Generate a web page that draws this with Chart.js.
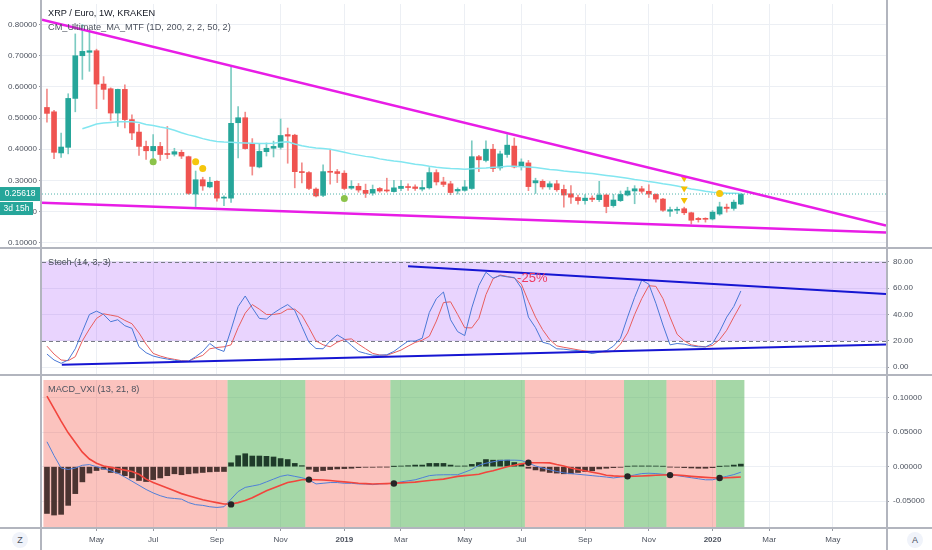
<!DOCTYPE html>
<html>
<head>
<meta charset="utf-8">
<script src="https://cdn.jsdelivr.net/npm/chart.js@4.4.1/dist/chart.umd.min.js"></script>
<style>
  html, body { margin: 0; padding: 0; background: #fff; }
  #wrap { position: relative; width: 932px; height: 550px; overflow: hidden; font-family: 'Liberation Sans', Arial, sans-serif; }
  .pane { position: absolute; left: 0; }
  .legend { position: absolute; left: 48px; font-size: 9.2px; color: #4c525e; white-space: nowrap; line-height: 11px; }
  .hline { position: absolute; left: 0; width: 932px; height: 2px; background: #b2b5be; }
  .vline { position: absolute; top: 0; width: 2px; height: 550px; background: #b2b5be; }
  .corner { position: absolute; top: 532px; width: 16px; height: 16px; border-radius: 8px; background: #f0f3fa;
            color: #4c525e; font-size: 9px; line-height: 16px; text-align: center; }
</style>
</head>
<body>
<div id="wrap">
  <canvas id="price" class="pane" style="top:0" width="932" height="247"></canvas>
  <canvas id="stoch" class="pane" style="top:249px" width="932" height="125"></canvas>
  <canvas id="macd" class="pane" style="top:376px" width="932" height="174"></canvas>
  <div class="hline" style="top:247px"></div>
  <div class="hline" style="top:374px"></div>
  <div class="hline" style="top:527px"></div>
  <div class="vline" style="left:40px"></div>
  <div class="vline" style="left:886px"></div>
  <div class="legend" style="top:8px;color:#131722">XRP / Euro, 1W, KRAKEN</div>
  <div class="legend" style="top:22px">CM_Ultimate_MA_MTF (1D, 200, 2, 2, 50, 2)</div>
  <div class="legend" style="top:257px">Stoch (14, 3, 3)</div>
  <div class="legend" style="top:384px">MACD_VXI (13, 21, 8)</div>
  <div class="corner" style="left:12px">Z</div>
  <div class="corner" style="left:907px">A</div>
</div>
<script>
// weekly candles, index 0 = week of 19 Mar 2018
const openP = [0.534,0.520,0.388,0.406,0.563,0.700,0.711,0.716,0.609,0.594,
  0.516,0.592,0.495,0.455,0.409,0.395,0.409,0.386,0.384,0.390,
  0.376,0.256,0.302,0.279,0.297,0.243,0.243,0.485,0.501,0.418,
  0.343,0.392,0.403,0.406,0.447,0.445,0.328,0.325,0.272,0.252,
  0.328,0.328,0.323,0.275,0.281,0.268,0.259,0.274,0.269,0.264,
  0.274,0.279,0.279,0.272,0.276,0.325,0.295,0.289,0.266,0.268,
  0.274,0.376,0.364,0.400,0.340,0.383,0.410,0.345,0.356,0.292,
  0.297,0.279,0.289,0.271,0.257,0.245,0.235,0.243,0.238,0.253,
  0.219,0.235,0.253,0.266,0.273,0.265,0.255,0.240,0.201,0.204,
  0.209,0.196,0.178,0.178,0.176,0.192,0.214,0.210,0.224];
const highP = [0.593,0.525,0.452,0.578,0.770,0.800,0.780,0.721,0.633,0.597,
  0.593,0.607,0.510,0.480,0.426,0.447,0.422,0.473,0.403,0.397,
  0.378,0.330,0.310,0.310,0.299,0.250,0.664,0.537,0.519,0.434,
  0.416,0.420,0.426,0.497,0.468,0.448,0.356,0.328,0.276,0.350,
  0.400,0.335,0.331,0.299,0.290,0.288,0.285,0.277,0.307,0.300,
  0.300,0.289,0.286,0.300,0.341,0.334,0.310,0.297,0.276,0.300,
  0.427,0.380,0.427,0.416,0.394,0.447,0.436,0.369,0.364,0.307,
  0.302,0.296,0.300,0.285,0.283,0.253,0.254,0.250,0.297,0.256,
  0.255,0.266,0.278,0.283,0.281,0.286,0.257,0.242,0.214,0.214,
  0.214,0.198,0.181,0.180,0.203,0.230,0.224,0.237,0.258];
const lowP = [0.487,0.370,0.374,0.385,0.520,0.624,0.650,0.530,0.560,0.493,
  0.473,0.468,0.431,0.380,0.367,0.372,0.364,0.370,0.378,0.370,
  0.255,0.216,0.268,0.276,0.233,0.219,0.229,0.372,0.400,0.317,
  0.340,0.378,0.375,0.400,0.355,0.276,0.292,0.270,0.247,0.248,
  0.288,0.293,0.270,0.271,0.262,0.245,0.252,0.262,0.262,0.262,
  0.267,0.268,0.268,0.266,0.272,0.285,0.280,0.254,0.256,0.265,
  0.271,0.328,0.359,0.328,0.333,0.374,0.340,0.333,0.267,0.258,
  0.272,0.271,0.265,0.214,0.226,0.224,0.224,0.232,0.232,0.196,
  0.214,0.232,0.250,0.225,0.259,0.245,0.230,0.200,0.184,0.193,
  0.190,0.160,0.166,0.166,0.173,0.188,0.198,0.204,0.222];
const closeP = [0.515,0.390,0.407,0.563,0.700,0.714,0.716,0.609,0.592,0.516,
  0.592,0.495,0.452,0.409,0.395,0.409,0.383,0.383,0.392,0.378,
  0.258,0.302,0.282,0.294,0.243,0.245,0.483,0.501,0.402,0.345,
  0.393,0.403,0.409,0.444,0.442,0.328,0.325,0.274,0.250,0.328,
  0.326,0.322,0.274,0.281,0.269,0.258,0.271,0.266,0.266,0.276,
  0.281,0.277,0.274,0.277,0.325,0.295,0.287,0.261,0.271,0.279,
  0.376,0.366,0.400,0.338,0.385,0.413,0.343,0.359,0.280,0.299,
  0.279,0.289,0.270,0.253,0.246,0.235,0.243,0.239,0.253,0.216,
  0.237,0.255,0.266,0.273,0.265,0.256,0.240,0.204,0.206,0.206,
  0.196,0.172,0.174,0.175,0.198,0.215,0.210,0.230,0.25618];

// CM_Ultimate_MA_MTF (starts at week 5)
const maValues = [null,null,null,null,null,
  0.4655,0.473,0.481,0.484,0.486,0.488,0.488,0.488,0.486,0.479,
  0.476,0.471,0.467,0.461,0.453,0.446,0.441,0.434,0.429,0.425,
  0.423,0.422,0.421,0.420,0.419,0.418,0.418,0.419,0.422,0.424,
  0.417,0.411,0.407,0.404,0.402,0.400,0.395,0.390,0.385,0.381,
  0.377,0.374,0.369,0.365,0.362,0.360,0.356,0.352,0.349,0.345,
  0.342,0.340,0.338,0.337,0.336,0.337,0.339,0.340,0.342,0.343,
  0.345,0.345,0.344,0.343,0.341,0.338,0.335,0.333,0.330,0.328,
  0.326,0.324,0.322,0.319,0.316,0.313,0.310,0.307,0.303,0.300,
  0.296,0.293,0.289,0.286,0.282,0.277,0.272,0.269,0.265,0.262,
  0.261,0.259,0.259,0.258];

// signal markers on the price pane
const greenIdx = [15, 42];
const greenVal = [0.360, 0.242];
const yellowIdx = [21, 22, 95];
const yellowVal = [0.360, 0.338, 0.2575];
const triIdx = [90, 90, 90];
const triVal = [0.307, 0.274, 0.237];

// drawn trend lines (week index, value)
const wedgeX = [-0.7, 118.5];
const wedgeUpper = [0.8155, 0.155];
const wedgeLower = [0.228, 0.133];

// Stoch (14, 3, 3)
const stochK = [10,5.5,3,5.5,14,27,40,42.5,40,34.5,
  36,31.5,29.5,15.5,11,8.5,7.2,6.2,5.3,4.7,
  4.6,8,12,18,14,12,28.5,46,54,45,
  37,36.5,41,44.5,47.5,43,31,19,14.2,14,
  20,24.5,21.3,16.5,12,10.5,9.1,9.1,9.5,12,
  16,19.8,19.8,22,41.5,52,57,36,27,24,
  45,62,72,67.5,69.4,68.5,68,60,38,30,
  19,17.5,14,13.7,13,12.6,11.5,10.4,11.4,12.5,
  16,22,38,53,66,63,48.5,32,17,18,
  17.5,16.2,15.5,15.4,18,27,38,46,57.8];
const stochD = [16,10,5.5,5,8,20,29,37,40.5,39.5,
  38.5,35.5,33,26,17.5,10.5,8.5,7,6,5,
  4.7,7,9,14,15,15.5,17,30,41,47.5,
  44,40,40,40.8,44,44,39.5,30,20,17,
  15.5,19,21,21.5,17.5,14,10.5,9.3,9.1,11,
  13,16,18.8,20.5,23.5,35,49,49.6,40,30,
  29.8,37,55,67,69.9,68.8,67.6,63,50,38,
  28.5,21,16.2,15.1,14.2,13.2,12.4,11.8,11.6,11.6,
  12,17.5,26,40,52,61.8,61.3,52,38,25,
  20,17,16,15.5,16.5,21,28,38,47.6];
const stochBand = [20, 80];
const stochLowX = [2.1, 118.5];
const stochLowY = [2, 17.2];
const stochHighX = [51, 118.5];
const stochHighY = [76.5, 55.5];
const stochNote = { text: '-25%', x: 66.4, y: 67 };

// MACD_VXI (13, 21, 8)
const macdLine = [0.036,0.016,-0.002,-0.004,-0.002,0.002,0.003,0.000,-0.003,-0.006,
  -0.0095,-0.015,-0.021,-0.027,-0.033,-0.038,-0.042,-0.045,-0.046,-0.047,
  -0.052,-0.055,-0.056,-0.058,-0.059,-0.058,-0.047,-0.036,-0.030,-0.028,
  -0.026,-0.022,-0.018,-0.014,-0.012,-0.014,-0.016,-0.019,-0.025,-0.024,
  -0.023,-0.023,-0.024,-0.024,-0.025,-0.025,-0.026,-0.025,-0.0245,-0.024,
  -0.022,-0.0205,-0.019,-0.016,-0.013,-0.012,-0.0117,-0.0117,-0.0117,-0.008,
  -0.004,0.002,0.005,0.007,0.009,0.0094,0.0094,0.009,0.005,0.001,
  -0.002,-0.0045,-0.007,-0.009,-0.010,-0.011,-0.012,-0.013,-0.014,-0.015,
  -0.0163,-0.015,-0.014,-0.012,-0.010,-0.0095,-0.010,-0.011,-0.0117,-0.013,
  -0.0145,-0.016,-0.0175,-0.019,-0.019,-0.0163,-0.014,-0.0115,-0.008];
const signalLine = [0.102,0.084,0.066,0.049,0.035,0.021,0.011,0.005,0.001,-0.001,
  -0.003,-0.005,-0.007,-0.011,-0.018,-0.023,-0.027,-0.031,-0.035,-0.039,
  -0.042,-0.045,-0.048,-0.050,-0.052,-0.054,-0.054,-0.052,-0.049,-0.045,
  -0.040,-0.035,-0.031,-0.027,-0.023,-0.021,-0.019,-0.0187,-0.019,-0.0193,
  -0.020,-0.021,-0.022,-0.023,-0.024,-0.0245,-0.025,-0.0248,-0.0245,-0.024,
  -0.0235,-0.023,-0.0224,-0.021,-0.020,-0.019,-0.018,-0.016,-0.014,-0.013,
  -0.012,-0.011,-0.008,-0.006,-0.003,0.000,0.002,0.004,0.0056,0.0056,
  0.0056,0.0055,0.003,0.001,-0.002,-0.004,-0.006,-0.008,-0.010,-0.0125,
  -0.0133,-0.0138,-0.014,-0.0138,-0.0135,-0.013,-0.0125,-0.012,-0.0117,-0.012,
  -0.013,-0.014,-0.0148,-0.0155,-0.016,-0.0163,-0.016,-0.0155,-0.015];
const histValues = [-0.0677,-0.070,-0.069,-0.056,-0.039,-0.022,-0.0093,-0.0056,-0.0037,-0.0084,
  -0.0093,-0.013,-0.0163,-0.020,-0.0215,-0.0187,-0.0163,-0.013,-0.0103,-0.0117,
  -0.0103,-0.0093,-0.0084,-0.0075,-0.007,-0.007,0.0056,0.0159,0.0187,0.0154,
  0.0154,0.015,0.014,0.0117,0.0103,0.0047,0.0014,-0.0037,-0.007,-0.0056,
  -0.0042,-0.0033,-0.0028,-0.0023,-0.0014,-0.0009,-0.0009,-0.0005,-0.0005,0.0002,
  0.0009,0.0014,0.0023,0.0023,0.0047,0.0047,0.0047,0.0023,0.0009,0.001,
  0.0033,0.006,0.0103,0.0094,0.0094,0.0094,0.006,0.0037,-0.0023,-0.0047,
  -0.0065,-0.0084,-0.0093,-0.0103,-0.0103,-0.0084,-0.007,-0.006,-0.0033,-0.0023,
  -0.0014,-0.0009,0.0005,0.001,0.001,0.001,0.0009,0.0005,-0.0005,-0.0009,
  -0.0014,-0.0019,-0.0023,-0.0023,-0.0014,0.0002,0.001,0.0023,0.0037];
const crossIdx = [26, 37, 49, 68, 82, 88, 95];
const crossVal = [-0.0546, -0.0187, -0.0243, 0.0056, -0.014, -0.0122, -0.0163];
// trend regime: red / green alternating between these week boundaries
const regimeBreaks = [-0.5, 25.5, 36.5, 48.5, 67.5, 81.5, 87.5, 94.5, 98.5];

// axis ticks
const tickIdx = [7, 15, 24, 33, 42, 50, 59, 67, 76, 85, 94, 102, 111];
const tickLabels = ['May','Jul','Sep','Nov','2019','Mar','May','Jul','Sep','Nov','2020','Mar','May'];
const priceTicks = [0.1, 0.2, 0.3, 0.4, 0.5, 0.6, 0.7, 0.8];
const stochTicks = [0, 20, 40, 60, 80];
const macdTicks = [-0.05, 0, 0.05, 0.1];

const FONT = "'Liberation Sans', Arial, sans-serif";
Chart.defaults.font.family = FONT;
const GRID = '#eceff4';
const TXT = '#4c525e';
const UP = '#26a69a', DOWN = '#ef5350';

const pts = (xs, ys) => xs.map((x, k) => ({ x, y: ys[k] }));
const series = arr => arr.map((v, i) => ({ x: i, y: v }));
const last = closeP.length - 1;

function xAxis(showLabels) {
  return {
    type: 'linear', min: -0.7, max: 118.5, bounds: 'data', offset: false,
    afterBuildTicks: s => { s.ticks = tickIdx.map(v => ({ value: v })); },
    afterFit: s => { s.height = showLabels ? 23 : 0; s.paddingLeft = 0; s.paddingRight = 0; },
    grid: { color: GRID, offset: false, drawTicks: showLabels, tickLength: 4, tickColor: '#9598a1' },
    border: { display: false },
    ticks: {
      display: showLabels, autoSkip: false, maxRotation: 0, padding: 4, color: TXT,
      font: ctx => ({ family: FONT, size: 8, weight: /^\d{4}$/.test(tickLabels[ctx.index]) ? 'bold' : 'normal' }),
      callback: (v, i) => tickLabels[i]
    }
  };
}

function yAxis(pos, min, max, ticks, digits, width) {
  return {
    position: pos, min, max, bounds: 'data',
    afterBuildTicks: s => { s.ticks = ticks.map(v => ({ value: v })); },
    afterFit: s => { s.width = width; s.paddingTop = 0; s.paddingBottom = 0; },
    grid: { color: GRID, tickLength: 3, tickColor: '#9598a1' },
    border: { display: false },
    ticks: { color: TXT, font: { size: 8 }, padding: pos === 'left' ? 2 : 4, callback: v => v.toFixed(digits) }
  };
}

const common = {
  responsive: false, animation: false, events: [],
  plugins: { legend: { display: false }, tooltip: { enabled: false } }
};

// price pane
const priceBox = {
  id: 'priceBox',
  afterDraw(chart) {
    const { ctx, scales: { y } } = chart;
    const py = y.getPixelForValue(closeP[last]);
    ctx.save();
    ctx.fillStyle = UP;
    ctx.fillRect(0, py - 7, 41, 14);
    ctx.fillRect(0, py + 8, 33, 13);
    ctx.fillStyle = '#fff';
    ctx.font = '8.5px ' + FONT;
    ctx.textAlign = 'center';
    ctx.textBaseline = 'middle';
    ctx.fillText(closeP[last].toFixed(5), 20, py);
    ctx.fillText('3d 15h', 16.5, py + 14.5);
    ctx.restore();
  }
};

new Chart(document.getElementById('price'), {
  type: 'bar',
  data: {
    datasets: [
      { type: 'line', data: pts(wedgeX, wedgeUpper), borderColor: '#e81de6', borderWidth: 2.5, pointRadius: 0 },
      { type: 'line', data: pts(wedgeX, wedgeLower), borderColor: '#e81de6', borderWidth: 2.5, pointRadius: 0 },
      { type: 'line', showLine: false, data: pts(greenIdx, greenVal), pointRadius: 3.5, pointBackgroundColor: '#8bc34a', pointBorderWidth: 0 },
      { type: 'line', showLine: false, data: pts(yellowIdx, yellowVal), pointRadius: 3.5, pointBackgroundColor: '#f5c60d', pointBorderWidth: 0 },
      { type: 'line', showLine: false, data: pts(triIdx, triVal), pointStyle: 'triangle', rotation: 180, pointRadius: 4, pointBackgroundColor: '#f5c000', pointBorderWidth: 0 },
      { type: 'line', data: pts(wedgeX, [closeP[last], closeP[last]]), borderColor: '#4fb3aa', borderWidth: 1, borderDash: [1, 2], pointRadius: 0 },
      { type: 'line', data: series(maValues), borderColor: '#82e6f0', borderWidth: 1.5, pointRadius: 0 },
      { type: 'bar', grouped: false, barThickness: 5, minBarLength: 1,
        data: openP.map((o, i) => ({ x: i, y: [o, closeP[i]] })),
        backgroundColor: ctx => closeP[ctx.dataIndex] >= openP[ctx.dataIndex] ? UP : DOWN },
      { type: 'bar', grouped: false, barThickness: 1,
        data: lowP.map((l, i) => ({ x: i, y: [l, highP[i]] })),
        backgroundColor: ctx => closeP[ctx.dataIndex] >= openP[ctx.dataIndex] ? '#7ccbc2' : '#f28b89' }
    ]
  },
  options: Object.assign({}, common, {
    layout: { padding: { left: 0, right: 46, top: 0, bottom: 0 } },
    scales: { x: xAxis(false), y: yAxis('left', 0.099, 0.866, priceTicks, 5, 42) }
  }),
  plugins: [priceBox]
});

// stochastic pane
const stochDecor = {
  id: 'stochDecor',
  beforeDatasetsDraw(chart) {
    const { ctx, chartArea: a, scales: { y } } = chart;
    const top = y.getPixelForValue(stochBand[1]), bot = y.getPixelForValue(stochBand[0]);
    ctx.save();
    ctx.fillStyle = 'rgba(155, 60, 250, 0.22)';
    ctx.fillRect(a.left, top, a.right - a.left, bot - top);
    ctx.strokeStyle = '#787b86';
    ctx.lineWidth = 1;
    ctx.setLineDash([4, 3]);
    [top, bot].forEach(yy => {
      ctx.beginPath();
      ctx.moveTo(a.left, Math.round(yy) + 0.5);
      ctx.lineTo(a.right, Math.round(yy) + 0.5);
      ctx.stroke();
    });
    ctx.restore();
  },
  afterDatasetsDraw(chart) {
    const { ctx, scales: { x, y } } = chart;
    ctx.save();
    ctx.fillStyle = '#ee3a62';
    ctx.font = '13px ' + FONT;
    ctx.textAlign = 'left';
    ctx.textBaseline = 'middle';
    ctx.fillText(stochNote.text, x.getPixelForValue(stochNote.x), y.getPixelForValue(stochNote.y));
    ctx.restore();
  }
};

new Chart(document.getElementById('stoch'), {
  type: 'line',
  data: {
    datasets: [
      { data: pts(stochHighX, stochHighY), borderColor: '#1616d2', borderWidth: 2, pointRadius: 0 },
      { data: pts(stochLowX, stochLowY), borderColor: '#1616d2', borderWidth: 2, pointRadius: 0 },
      { data: series(stochK), borderColor: '#4a78d6', borderWidth: 1, pointRadius: 0 },
      { data: series(stochD), borderColor: '#e85d5d', borderWidth: 1, pointRadius: 0 }
    ]
  },
  options: Object.assign({}, common, {
    layout: { padding: { left: 42, right: 0, top: 0, bottom: 0 } },
    scales: { x: xAxis(false), y: yAxis('right', -5.1, 89.6, stochTicks, 2, 46) }
  }),
  plugins: [stochDecor]
});

// MACD pane
const regimeBg = {
  id: 'regimeBg',
  beforeDatasetsDraw(chart) {
    const { ctx, chartArea: a, scales: { x } } = chart;
    ctx.save();
    for (let k = 0; k < regimeBreaks.length - 1; k++) {
      const x0 = x.getPixelForValue(regimeBreaks[k]);
      const x1 = x.getPixelForValue(regimeBreaks[k + 1]);
      ctx.fillStyle = k % 2 === 0 ? 'rgba(244, 67, 54, 0.32)' : 'rgba(76, 175, 80, 0.5)';
      ctx.fillRect(x0, a.top, x1 - x0, a.bottom - a.top);
    }
    ctx.restore();
  }
};

new Chart(document.getElementById('macd'), {
  type: 'bar',
  data: {
    datasets: [
      { type: 'line', showLine: false, data: pts(crossIdx, crossVal), pointRadius: 3.2, pointBackgroundColor: '#262626', pointBorderWidth: 0 },
      { type: 'line', data: series(signalLine), borderColor: '#f2453d', borderWidth: 1.6, pointRadius: 0 },
      { type: 'line', data: series(macdLine), borderColor: '#4f7fd8', borderWidth: 1, pointRadius: 0 },
      { type: 'bar', barThickness: 5, data: series(histValues),
        backgroundColor: ctx => histValues[ctx.dataIndex] >= 0 ? '#1f3b2a' : '#4b3431' }
    ]
  },
  options: Object.assign({}, common, {
    layout: { padding: { left: 42, right: 0, top: 0, bottom: 0 } },
    scales: { x: xAxis(true), y: yAxis('right', -0.0873, 0.1254, macdTicks, 5, 46) }
  }),
  plugins: [regimeBg]
});
</script>
</body>
</html>
